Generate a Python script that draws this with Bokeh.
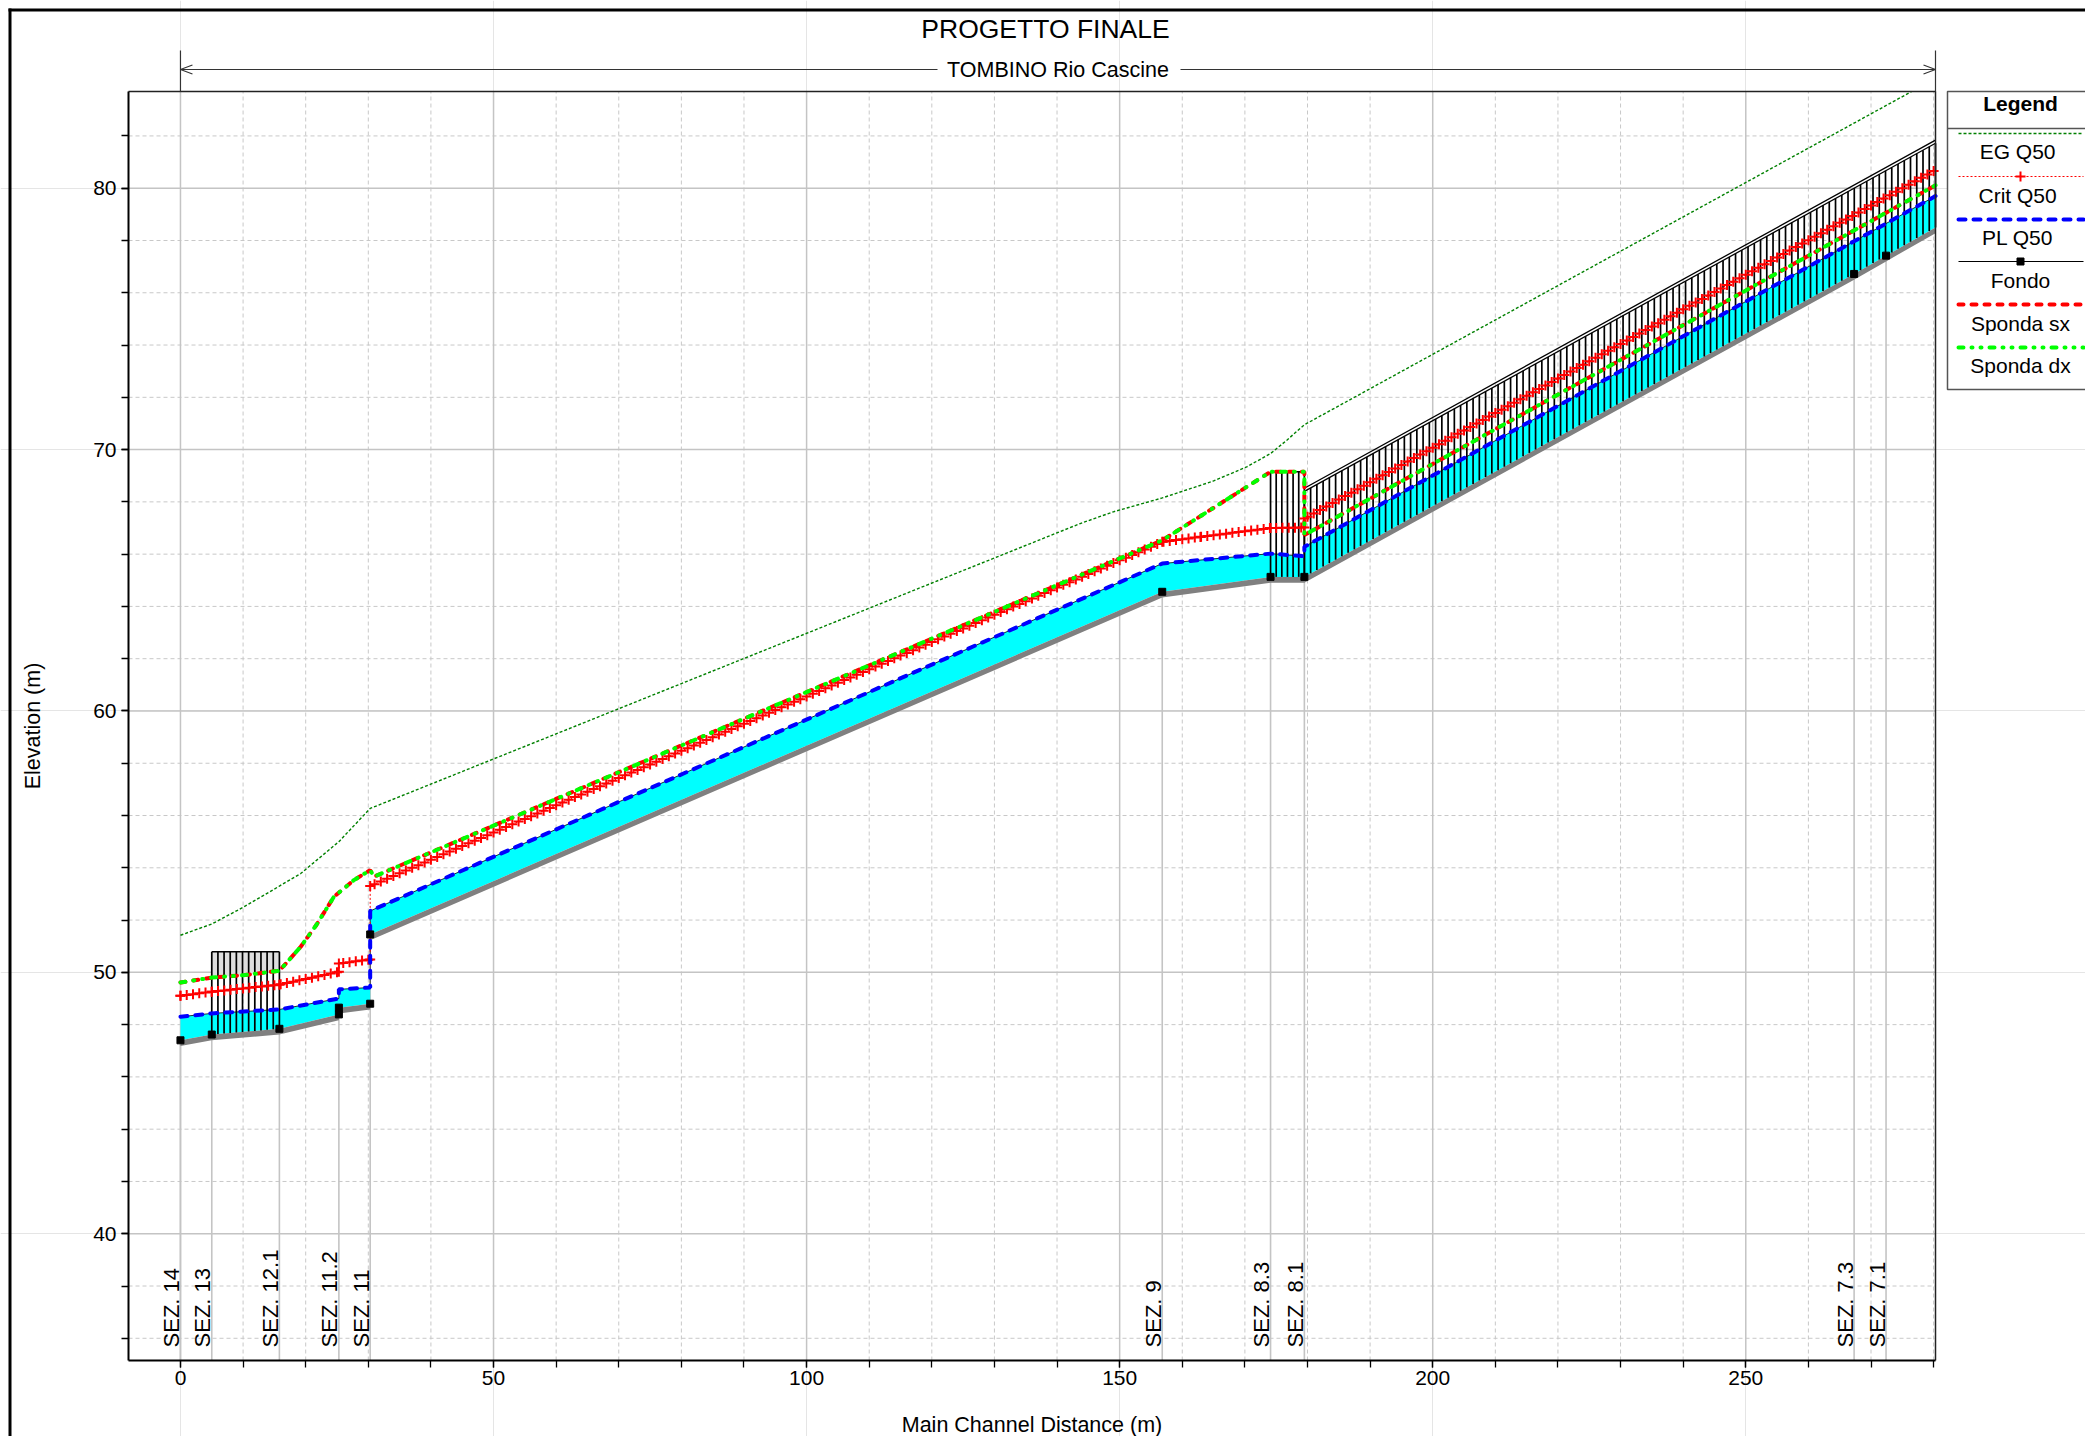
import numpy as np
from bokeh.plotting import figure
from bokeh.models import FixedTicker, Range1d, LinearAxis
from bokeh.core.properties import value
from bokeh.embed import file_html
from bokeh.resources import INLINE

# ---------------- data ----------------
section_names = ["SEZ. 14", "SEZ. 13", "SEZ. 12.1", "SEZ. 11.2", "SEZ. 11",
                 "SEZ. 9", "SEZ. 8.3", "SEZ. 8.1", "SEZ. 7.3", "SEZ. 7.1"]
section_x = [0.0, 5.0, 15.8, 25.3, 30.3, 156.8, 174.1, 179.5, 267.3, 272.4]
end_station = 280.3

# Fondo (bed)
bed_x = [0.0, 5.0, 15.8, 25.3, 25.3, 30.3, 30.3, 156.8, 174.1, 179.5, 267.3, 272.4, 280.3]
bed_y = [47.40, 47.62, 47.84, 48.39, 48.65, 48.80, 51.45, 64.56, 65.13, 65.13, 76.72, 77.42, 78.50]

# PL Q50 (water surface)
pl_x = [0.0, 5.0, 15.8, 25.3, 25.3, 30.3, 30.3, 156.8, 174.1, 179.5, 179.5, 280.3]
pl_y = [48.30, 48.43, 48.58, 49.00, 49.35, 49.42, 52.35, 65.64, 66.02, 65.92, 66.28, 79.70]

# Crit Q50
crit_x = [0.0, 5.0, 15.8, 25.3, 25.3, 30.3, 30.3, 156.8, 162.9, 174.1, 179.5, 179.5, 280.3]
crit_y = [49.10, 49.26, 49.53, 50.02, 50.34, 50.49, 53.30, 66.47, 66.66, 67.00, 67.02, 67.36, 80.70]

# EG Q50
eg_x = [0.0, 5.0, 10.1, 15.8, 19.2, 25.3, 30.3, 143.7, 149.0, 156.8, 165.0, 170.3, 174.1, 176.7, 179.5, 250.7, 280.3]
eg_y = [51.42, 51.85, 52.50, 53.30, 53.78, 55.00, 56.27, 67.17, 67.62, 68.15, 68.80, 69.34, 69.85, 70.36, 70.95, 80.31, 84.20]

# Sponda sx / Sponda dx (coincident)
sp_x = [0.0, 5.0, 10.1, 15.8, 19.2, 21.7, 24.5, 27.7, 30.3, 30.9, 156.8, 174.1, 179.5, 179.5, 280.3]
sp_y = [49.61, 49.80, 49.89, 50.06, 50.98, 51.81, 52.89, 53.53, 53.91, 53.66, 66.53, 69.15, 69.15, 66.73, 80.11]

# culvert / structure tops
c1_x = [5.0, 15.8];    c1_top = [50.79, 50.79]
c2_x = [174.1, 179.5]; c2_top = [69.15, 69.15]
c3_x = [179.5, 280.3]; c3_top = [68.40, 81.72]
c1_n, c2_n, c3_n = 12, 7, 102          # interpolated sections drawn in each structure
crit_marker_step = 1.0                 # interpolated-section spacing (m)

x_major = [0, 50, 100, 150, 200, 250]
x_minor = list(range(0, 290, 10))
y_major = [40, 50, 60, 70, 80]
y_minor = list(range(36, 84, 2))

legend_labels = ["EG  Q50", "Crit  Q50", "PL  Q50", "Fondo", "Sponda sx", "Sponda dx"]

# ---------------- layout (page pixels) ----------------
FONT = "Liberation Sans"
X0, X1 = -8.3, 280.3          # plot-area data range
Y0, Y1 = 35.15, 83.7
W, H = 2085, 1436             # canvas
PL_L, PL_R, PL_T, PL_B = 128, 1935, 91, 1360   # plot area on the canvas
SX = (PL_R - PL_L) / (X1 - X0)
SY = (PL_B - PL_T) / (Y1 - Y0)

# line styles
EG_STYLE = dict(line_color="#008000", line_width=1.4, line_dash="3 2")
CRIT_STYLE = dict(line_color="#ff0000", line_width=1, line_dash="2 2")
PL_STYLE = dict(line_color="#0000ff", line_width=4, line_dash="7 8", line_cap="round")
SX_STYLE = dict(line_color="#ff0000", line_width=4, line_dash="5 8", line_cap="round")
DX_STYLE = dict(line_color="#00ff00", line_width=4, line_dash="5 8 1 8 1 8", line_cap="round")
CRIT_MK = dict(marker="cross", size=10, line_color="#ff0000", line_width=2)


def px2x(px):
    return X0 + (px - PL_L) / SX


def py2y(py):
    return Y1 - (py - PL_T) / SY


p = figure(width=W, height=H, x_range=Range1d(px2x(0), px2x(W)),
           y_range=Range1d(py2y(H), py2y(0)),
           output_backend="svg", toolbar_location=None, title=None,
           x_axis_location=None, y_axis_location=None, min_border=0,
           min_border_left=0, min_border_right=0, min_border_top=0, min_border_bottom=0,
           outline_line_color=None, background_fill_color="white", border_fill_color="white")

# ---- grid ----
GRID = "#c4c4c4"
xm = [v for v in x_minor if v not in x_major]
ym = [v for v in y_minor if v not in y_major]
p.segment(x0=xm, y0=[Y0] * len(xm), x1=xm, y1=[Y1] * len(xm),
          line_color="#c8c8c8", line_width=1, line_dash="4 3")
p.segment(x0=[X0] * len(ym), y0=ym, x1=[X1] * len(ym), y1=ym,
          line_color="#c8c8c8", line_width=1, line_dash="4 3")
p.segment(x0=x_major, y0=[Y0] * len(x_major), x1=x_major, y1=[Y1] * len(x_major),
          line_color=GRID, line_width=1.5)
p.segment(x0=[X0] * len(y_major), y0=y_major, x1=[X1] * len(y_major), y1=y_major,
          line_color=GRID, line_width=1.5)

# ---- axes drawn at the plot-area edges ----
xax = LinearAxis(fixed_location=Y0, bounds=(X0, X1),
                 ticker=FixedTicker(ticks=x_major, minor_ticks=x_minor),
                 axis_label="Main Channel Distance (m)")
yax = LinearAxis(fixed_location=X0, bounds=(Y0, Y1),
                 ticker=FixedTicker(ticks=y_major, minor_ticks=y_minor),
                 axis_label="Elevation (m)")
for ax in (xax, yax):
    ax.major_tick_out = 7
    ax.major_tick_in = 0
    ax.minor_tick_out = 7
    ax.minor_tick_in = 0
    ax.major_tick_line_color = "black"
    ax.minor_tick_line_color = "black"
    ax.major_tick_line_width = 1.3
    ax.minor_tick_line_width = 1.3
    ax.axis_line_color = "black"
    ax.axis_line_width = 2
    ax.major_label_text_font = FONT
    ax.major_label_text_font_size = "21px"
    ax.major_label_text_color = "black"
    ax.axis_label_text_font = FONT
    ax.axis_label_text_font_size = "21.5px"
    ax.axis_label_text_font_style = "normal"
    ax.axis_label_text_color = "black"
xax.major_label_standoff = 3
xax.axis_label_standoff = 25
yax.major_label_standoff = 5
yax.axis_label_standoff = 45
p.add_layout(xax, "below")
p.add_layout(yax, "left")

bx = np.array(bed_x); by = np.array(bed_y)

# section lines (from plot bottom to the bed)
sx = np.array(section_x)
p.segment(x0=sx, y0=np.full(len(sx), Y0), x1=sx, y1=np.interp(sx, bx, by),
          line_color=GRID, line_width=1.6)

# water between bed and PL
p.patch(x=list(pl_x) + bed_x[::-1], y=list(pl_y) + bed_y[::-1],
        fill_color="#00ffff", line_color=None)

# bed drawn as a thick grey band
p.varea(x=bx, y1=by - 0.22, y2=by, fill_color="#808080")

# culvert 1 road fill (grey) between its top and the bank line
c1_fill_x = np.array([5.0, 10.1, 15.8])
p.varea(x=c1_fill_x, y1=np.interp(c1_fill_x, sp_x, sp_y),
        y2=np.interp(c1_fill_x, c1_x, c1_top), fill_color="#dedede")

# structure hatching (interpolated sections inside the culverts)
for cx, ctop, n in ((c1_x, c1_top, c1_n), (c2_x, c2_top, c2_n), (c3_x, c3_top, c3_n)):
    xs = np.linspace(cx[0], cx[1], n)
    p.segment(x0=xs, y0=np.interp(xs, bx, by), x1=xs, y1=np.interp(xs, cx, ctop),
              line_color="black", line_width=1.7)
p.line(c1_x, c1_top, line_color="black", line_width=1.5)
p.line(c2_x, c2_top, line_color="black", line_width=1.5)
p.line(c3_x, c3_top, line_color="black", line_width=1.3)
p.line(c3_x, np.array(c3_top) + 0.12, line_color="black", line_width=1.3)

# thin outline along the water surface
p.line(pl_x, pl_y, line_color="black", line_width=0.8)

# EG (cut where it leaves the plot area)
ex = np.array(eg_x); ey = np.array(eg_y)
x_cut = float(np.interp(Y1, ey, ex))
keep = ex < x_cut
p.line(list(ex[keep]) + [x_cut], list(ey[keep]) + [Y1], **EG_STYLE)

# Crit with + markers at interpolated sections
p.line(crit_x, crit_y, **CRIT_STYLE)
mx = np.arange(0.0, end_station + 0.01, crit_marker_step)
p.scatter(np.concatenate([mx, crit_x[:-1]]),
          np.concatenate([np.interp(mx, crit_x, crit_y), crit_y[:-1]]), **CRIT_MK)

# PL
p.line(pl_x, pl_y, **PL_STYLE)

# Sponda sx / dx
p.line(sp_x, sp_y, **SX_STYLE)
p.line(sp_x, sp_y, **DX_STYLE)

# bed section markers
p.scatter(bed_x[:-1], bed_y[:-1], marker="square", size=7, color="black")

# section labels (left of each section line, reading upwards)
p.text(x=sx, y=np.full(len(sx), Y0 + 0.5), text=section_names, angle=np.pi / 2,
       text_align="left", text_baseline="alphabetic", x_offset=-9,
       text_font=value(FONT), text_font_size="22px", text_color="black")

# plot-area border (top, right)
p.line([X0, X1, X1], [Y1, Y1, Y0], line_color="#222222", line_width=1.5)

# ---------------- header: title and reach dimension line ----------------
p.text(x=[px2x(1045)], y=[py2y(28)], text=["PROGETTO FINALE"], text_align="center",
       text_baseline="middle", text_font=value(FONT), text_font_size="26.5px", text_color="black")
ay = py2y(69)
gap_l, gap_r = px2x(937), px2x(1180)
p.segment(x0=[0, gap_r], y0=[ay, ay], x1=[gap_l, end_station], y1=[ay, ay],
          line_color="#333333", line_width=1.2)
hx, hy = 12 / SX, 4.5 / SY
p.multi_line(xs=[[hx, 0, hx], [end_station - hx, end_station, end_station - hx]],
             ys=[[ay + hy, ay, ay - hy], [ay + hy, ay, ay - hy]],
             line_color="#333333", line_width=1.2)
p.segment(x0=[0, end_station], y0=[py2y(50)] * 2, x1=[0, end_station], y1=[Y1] * 2,
          line_color="#333333", line_width=1.2)
p.text(x=[end_station / 2], y=[ay], text=["TOMBINO Rio Cascine"], text_align="center",
       text_baseline="middle", text_font=value(FONT), text_font_size="21.5px", text_color="black")

# outer frame (left and top)
p.segment(x0=[px2x(9.5), px2x(8)], y0=[py2y(8), py2y(9.5)],
          x1=[px2x(9.5), px2x(W)], y1=[py2y(H), py2y(9.5)],
          line_color="black", line_width=3)

# ---------------- legend ----------------
LG_L, LG_T, LG_B, LG_HDR, LG_CX = 1947, 91, 389, 128, 2020
p.quad(left=[px2x(LG_L)], right=[px2x(W + 20)], top=[py2y(LG_T)], bottom=[py2y(LG_B)],
       fill_color="white", line_color="#555555", line_width=1.5)
p.segment(x0=[px2x(LG_L)], y0=[py2y(LG_HDR)], x1=[px2x(W)], y1=[py2y(LG_HDR)],
          line_color="#555555", line_width=1.5)
p.text(x=[px2x(LG_CX)], y=[py2y(103)], text=["Legend"], text_align="center",
       text_baseline="middle", text_font=value(FONT), text_font_size="21px",
       text_font_style="bold", text_color="black")
ly = [py2y(v) for v in (133, 176, 219, 261, 304, 347)]
ty = [py2y(v) for v in (151, 195, 237, 280, 323, 365)]
lx = [px2x(1958), px2x(W - 2)]
lcx = px2x(LG_CX)
p.line(lx, [ly[0]] * 2, **EG_STYLE)
p.line(lx, [ly[1]] * 2, **CRIT_STYLE)
p.scatter([lcx], [ly[1]], **CRIT_MK)
p.line(lx, [ly[2]] * 2, **PL_STYLE)
p.line(lx, [ly[3]] * 2, line_color="black", line_width=1)
p.scatter([lcx], [ly[3]], marker="square", size=7, color="black")
p.line(lx, [ly[4]] * 2, **SX_STYLE)
p.line(lx, [ly[5]] * 2, **DX_STYLE)
p.text(x=[lcx] * 6, y=ty, text=legend_labels, text_align="center", text_baseline="middle",
       text_font=value(FONT), text_font_size="21px", text_color="black")

open("out.html", "w").write(file_html(p, INLINE))
